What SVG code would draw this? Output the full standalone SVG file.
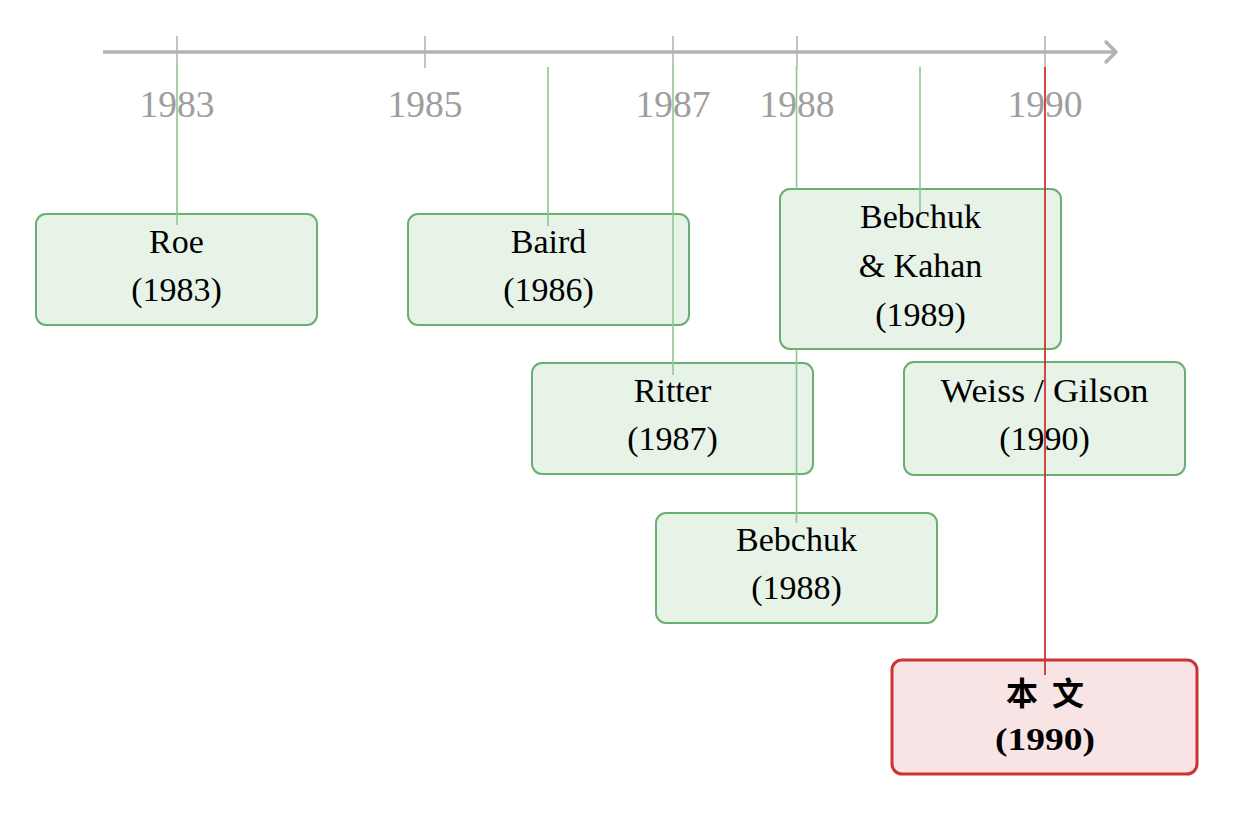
<svg xmlns="http://www.w3.org/2000/svg" width="1235" height="813" viewBox="0 0 1235 813">
<style>
.axis{stroke:#b3b3b3;stroke-width:3.5;fill:none}
.tick{stroke:#b3b3b3;stroke-width:1.6}
.year{font-family:"Liberation Serif",serif;font-size:37.5px;fill:#9e9e9e;text-anchor:middle}
.box{fill:#e8f3e8;stroke:#6aaf6f;stroke-width:2}
.rbox{fill:#f8e4e5;stroke:#cc3333;stroke-width:3}
.t{font-family:"Liberation Serif",serif;font-size:34px;fill:#000;text-anchor:middle}
.tb{font-family:"Liberation Serif","Noto Sans CJK SC",serif;font-size:32px;font-weight:bold;fill:#000;text-anchor:middle}
.gl{stroke:#8cc795;stroke-width:1.6}
.rl{stroke:#cc3333;stroke-width:1.8}
</style>
<g id="axis">
<line class="axis" x1="103" y1="52" x2="1115" y2="52"/>
<polyline class="axis" points="1106,42 1116,52 1106,62" stroke-linecap="round" stroke-linejoin="round"/>
<line class="tick" x1="177" y1="36" x2="177" y2="68"/>
<line class="tick" x1="425" y1="36" x2="425" y2="68"/>
<line class="tick" x1="673" y1="36" x2="673" y2="68"/>
<line class="tick" x1="797" y1="36" x2="797" y2="68"/>
<line class="tick" x1="1045" y1="36" x2="1045" y2="68"/>
<text class="year" x="177" y="117">1983</text>
<text class="year" x="425" y="117">1985</text>
<text class="year" x="673" y="117">1987</text>
<text class="year" x="797" y="117">1988</text>
<text class="year" x="1045" y="117">1990</text>
</g>
<g id="roe">
<rect class="box" x="36" y="214" width="281" height="111" rx="10"/>
<text class="t" x="176.5" y="253">Roe</text>
<text class="t" x="176.5" y="301">(1983)</text>
</g>
<g id="baird">
<rect class="box" x="408" y="214" width="281" height="111" rx="10"/>
<text class="t" x="548.5" y="253">Baird</text>
<text class="t" x="548.5" y="301">(1986)</text>
</g>
<g id="ritter">
<rect class="box" x="532" y="363" width="281" height="111" rx="10"/>
<text class="t" x="672.5" y="402">Ritter</text>
<text class="t" x="672.5" y="450">(1987)</text>
</g>
<g id="bebchuk1988">
<rect class="box" x="656" y="513" width="281" height="110" rx="10"/>
<text class="t" x="796.5" y="551">Bebchuk</text>
<text class="t" x="796.5" y="599">(1988)</text>
</g>
<g id="bebchukkahan">
<rect class="box" x="780" y="189" width="281" height="160" rx="10"/>
<text class="t" x="920.5" y="228">Bebchuk</text>
<text class="t" x="920.5" y="277">&amp; Kahan</text>
<text class="t" x="920.5" y="326">(1989)</text>
</g>
<g id="weissgilson">
<rect class="box" x="904" y="362" width="281" height="113" rx="10"/>
<text class="t" x="1044.5" y="402" textLength="208" lengthAdjust="spacingAndGlyphs">Weiss / Gilson</text>
<text class="t" x="1044.5" y="450">(1990)</text>
</g>
<g id="thispaper">
<rect class="rbox" x="892" y="660" width="305" height="114" rx="10"/>
<text class="tb" x="1045" y="705" word-spacing="6">本 文</text>
<text class="tb" x="1045" y="750" textLength="100" lengthAdjust="spacingAndGlyphs">(1990)</text>
</g>
<g id="connectors">
<line class="gl" x1="177" y1="67" x2="177" y2="225"/>
<line class="gl" x1="548" y1="67" x2="548" y2="226"/>
<line class="gl" x1="673" y1="67" x2="673" y2="375"/>
<line class="gl" x1="796.5" y1="67" x2="796.5" y2="189"/>
<line class="gl" x1="796.5" y1="349" x2="796.5" y2="523"/>
<line class="gl" x1="920" y1="67" x2="920" y2="213"/>
<line class="rl" x1="1045" y1="67" x2="1045" y2="675"/>
</g>
</svg>
